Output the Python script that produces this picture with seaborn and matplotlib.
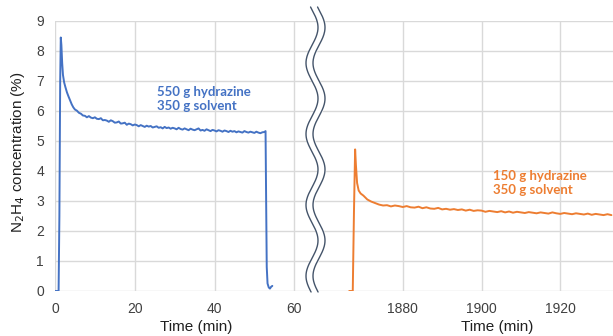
# imports
import numpy as np
import matplotlib.pyplot as plt
import seaborn as sns

# ---- data ----
# left panel (550 g hydrazine)
blue_head_t = [0, 0.9, 1.1, 1.3, 1.45, 1.6, 1.8, 2.0, 2.3, 2.6, 3.0, 3.4, 3.8, 4.2, 4.6]
blue_head_v = [0, 0, 2.5, 7.0, 8.45, 8.2, 7.6, 7.2, 6.95, 6.8, 6.62, 6.48, 6.35, 6.22, 6.12]
blue_mid_t = np.arange(5.0, 53.0, 0.5)
blue_mid_v = [6.05, 6.01, 5.94, 5.91, 5.85, 5.84, 5.79, 5.83, 5.78, 5.76,
              5.79, 5.74, 5.73, 5.76, 5.69, 5.70, 5.68, 5.64, 5.69, 5.66,
              5.61, 5.62, 5.65, 5.58, 5.59, 5.61, 5.54, 5.58, 5.56, 5.52,
              5.55, 5.53, 5.49, 5.53, 5.50, 5.47, 5.51, 5.48, 5.50, 5.45,
              5.47, 5.49, 5.44, 5.46, 5.42, 5.47, 5.43, 5.45, 5.41, 5.44,
              5.42, 5.39, 5.44, 5.40, 5.38, 5.42, 5.39, 5.36, 5.41, 5.38,
              5.36, 5.39, 5.42, 5.35, 5.37, 5.34, 5.39, 5.36, 5.33, 5.37,
              5.35, 5.32, 5.36, 5.34, 5.31, 5.35, 5.33, 5.30, 5.34, 5.31,
              5.33, 5.29, 5.32, 5.30, 5.28, 5.33, 5.30, 5.28, 5.31, 5.29,
              5.27, 5.31, 5.28, 5.26, 5.29, 5.30]
blue_tail_t = [52.8, 52.95, 53.1, 53.3, 53.6, 53.9, 54.2, 54.5]
blue_tail_v = [5.33, 3.0, 0.8, 0.25, 0.12, 0.08, 0.14, 0.17]

# right panel (150 g hydrazine)
orange_head_t = [1866.4, 1867.3, 1867.6, 1867.9, 1868.1, 1868.4, 1868.8, 1869.3]
orange_head_v = [0, 0, 2.6, 4.72, 4.2, 3.6, 3.35, 3.25]
orange_mid_t = np.arange(1870, 1934, 1.0)
orange_mid_v = [3.18, 3.05, 2.98, 2.93, 2.88, 2.85, 2.86, 2.82, 2.85, 2.83,
                2.80, 2.83, 2.79, 2.78, 2.81, 2.76, 2.79, 2.75, 2.74, 2.77,
                2.72, 2.74, 2.71, 2.73, 2.70, 2.72, 2.68, 2.71, 2.67, 2.69,
                2.68, 2.64, 2.67, 2.65, 2.63, 2.66, 2.62, 2.65, 2.61, 2.64,
                2.62, 2.60, 2.63, 2.61, 2.59, 2.62, 2.60, 2.58, 2.62, 2.59,
                2.57, 2.60, 2.58, 2.56, 2.59, 2.57, 2.55, 2.58, 2.54, 2.57,
                2.55, 2.53, 2.56, 2.53]

y_ticks = list(range(0, 10))
left_ticks = [0, 20, 40, 60]
right_ticks = [1880, 1900, 1920]

blue = "#4472C4"
orange = "#ED7D31"
grid_c = "#D9D9D9"
text_c = "#404040"

blue_t = np.concatenate([blue_head_t, blue_mid_t, blue_tail_t])
blue_v = np.concatenate([blue_head_v, blue_mid_v, blue_tail_v])
orange_t = np.concatenate([orange_head_t, orange_mid_t])
orange_v = np.concatenate([orange_head_v, orange_mid_v])

# ---- plot ----
sns.set_style("white")
plt.rcParams['font.family'] = ['Liberation Sans', 'DejaVu Sans']

W, H = 613, 336
fig = plt.figure(figsize=(W / 100, H / 100), dpi=100)

def px_box(x0, x1, y0, y1):
    return [x0 / W, 1 - y1 / H, (x1 - x0) / W, (y1 - y0) / H]

ax1 = fig.add_axes(px_box(55, 313, 21, 291))
ax2 = fig.add_axes(px_box(313, 613, 21, 291))

sns.lineplot(x=blue_t, y=blue_v, ax=ax1, color=blue, lw=1.4, sort=False, estimator=None)
sns.lineplot(x=orange_t, y=orange_v, ax=ax2, color=orange, lw=1.4, sort=False, estimator=None)

ax1.set_xlim(0, 64.7)
ax2.set_xlim(1857.2, 1933.4)
for ax in (ax1, ax2):
    ax.set_ylim(0, 9)
    ax.set_yticks(y_ticks)
    ax.grid(True, color=grid_c, lw=1.0)
    ax.set_axisbelow(True)
    for s in ax.spines.values():
        s.set_visible(False)
    ax.tick_params(length=0, labelsize=10, colors=text_c, pad=8)
    ax.set_xlabel("")
    ax.set_ylabel("")
ax1.set_xticks(left_ticks)
ax2.set_xticks(right_ticks)
ax2.tick_params(axis="y", labelleft=False)

ax1.text(25.6, 6.4, "550 g hydrazine\n350 g solvent", color=blue, fontsize=9.5,
         fontweight="bold", family=["Lato", "DejaVu Sans"], va="center", linespacing=1.15)
ax2.text(1903, 3.6, "150 g hydrazine\n350 g solvent", color=orange, fontsize=9.5,
         fontweight="bold", family=["Lato", "DejaVu Sans"], va="center", linespacing=1.15)

fig.text(18 / W, 1 - 152 / H, r"N$_2$H$_4$ concentration (%)", rotation=90,
         ha="center", va="center", fontsize=11, color="#202020")
fig.text(196 / W, 1 - 327 / H, "Time (min)", ha="center", va="center", fontsize=11, color="#202020")
fig.text(497 / W, 1 - 327 / H, "Time (min)", ha="center", va="center", fontsize=11, color="#202020")

# axis break: white band between two wavy lines
ov = fig.add_axes([0, 0, 1, 1])
ov.set_xlim(0, W)
ov.set_ylim(H, 0)
ov.axis("off")
ov.patch.set_alpha(0)
yy = np.linspace(7, 292, 300)
xl = 312 - 6 * np.cos(2 * np.pi * (yy - 63) / 71)
xr = xl + 7
ov.fill_betweenx(yy, xl, xr, color="white", zorder=1)
ov.plot(xl, yy, color="#44546A", lw=1.0, zorder=2)
ov.plot(xr, yy, color="#44546A", lw=1.0, zorder=2)

plt.savefig("out.png", dpi=100)
